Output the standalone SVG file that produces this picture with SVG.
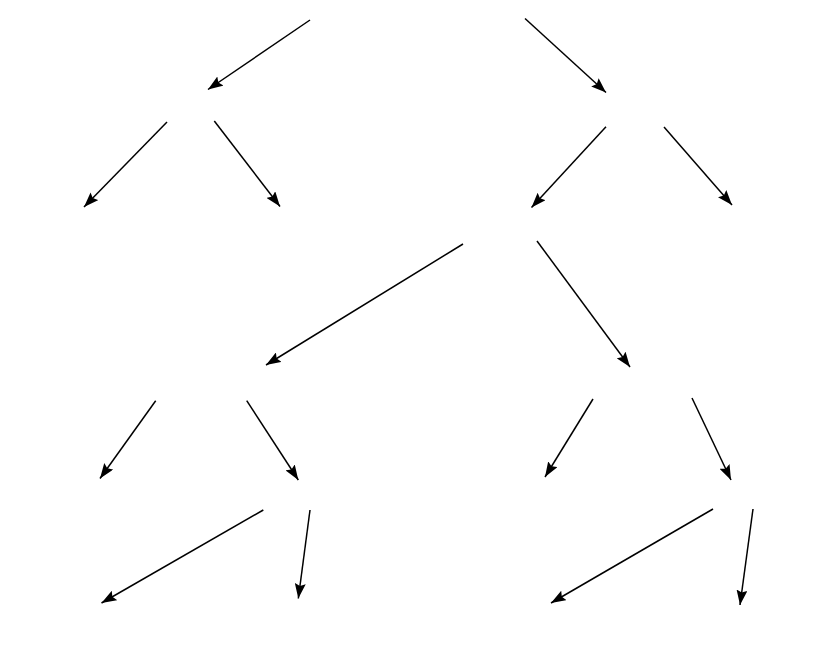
<svg xmlns="http://www.w3.org/2000/svg" width="830" height="653" viewBox="0 0 830 653">
<defs>
<marker id="arr" viewBox="0 0 15 11" refX="15" refY="5.5" markerWidth="15" markerHeight="11" markerUnits="userSpaceOnUse" orient="auto">
<path d="M0,0 L15,5.5 L0,11 L2.5,5.5 z" fill="#000"/>
</marker>
<style>
.e{stroke:#000;stroke-width:1.5;fill:none;marker-end:url(#arr)}
</style>
</defs>
<rect width="830" height="653" fill="#fff"/>
<g id="connectors">
<line class="e" x1="310" y1="20" x2="208" y2="89.5"/>
<line class="e" x1="525" y1="18.5" x2="606" y2="92.5"/>
<line class="e" x1="167" y1="122" x2="84" y2="207"/>
<line class="e" x1="214.3" y1="121" x2="280" y2="206.5"/>
<line class="e" x1="606" y1="126.7" x2="531.5" y2="207.5"/>
<line class="e" x1="664" y1="127" x2="732" y2="205"/>
<line class="e" x1="463" y1="244" x2="266" y2="365"/>
<line class="e" x1="537" y1="241" x2="630" y2="367"/>
<line class="e" x1="155.7" y1="400.7" x2="100" y2="478.5"/>
<line class="e" x1="246.7" y1="400.7" x2="298.3" y2="480"/>
<line class="e" x1="593" y1="399" x2="545" y2="477"/>
<line class="e" x1="692" y1="398" x2="731" y2="480"/>
<line class="e" x1="263.3" y1="510" x2="101.5" y2="603"/>
<line class="e" x1="310" y1="510" x2="298.3" y2="598.5"/>
<line class="e" x1="713" y1="509" x2="551" y2="603"/>
<line class="e" x1="753" y1="509" x2="740" y2="605"/>
</g>
</svg>
